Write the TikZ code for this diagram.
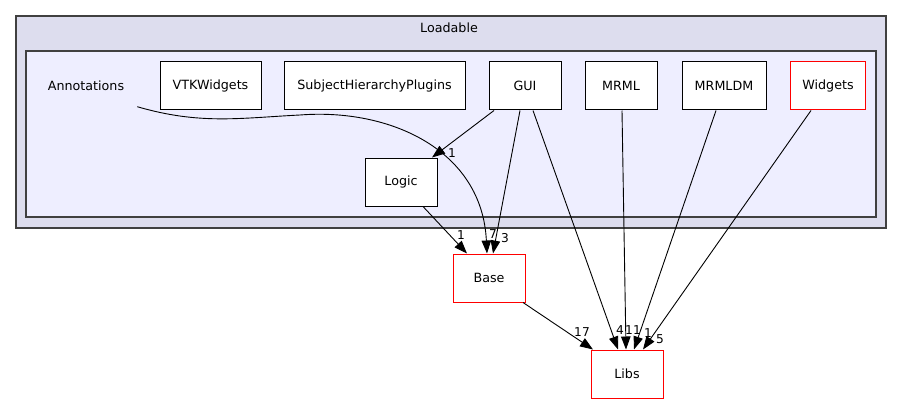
\documentclass[tikz,border=0pt]{standalone}
\usepackage{fontspec}
\setmainfont{DejaVu Sans}
\usetikzlibrary{arrows.meta}
\definecolor{outerfill}{HTML}{DDDDEE}
\definecolor{innerfill}{HTML}{EEEEFF}
\definecolor{clusterline}{HTML}{404040}

\begin{document}
\begin{tikzpicture}[x=1pt,y=-1pt]
\tikzset{
  dirnode/.style={rectangle,draw=black,fill=white,line width=1pt,minimum width=72pt,minimum height=48pt,inner sep=0pt,font=\fontsize{12.7}{15}\selectfont},
  rednode/.style={dirnode,draw=red},
  textnode/.style={inner sep=0pt,font=\fontsize{12.7}{15}\selectfont},
  edgelabel/.style={inner sep=0pt,font=\fontsize{12.2}{14}\selectfont},
  cluster/.style={draw=clusterline,line width=1.2pt},
  directed/.style={-{Triangle[length=13pt,width=9.5pt]},line width=0.9pt}
}
\useasboundingbox (0,0) rectangle (903,404);
% clusters
\draw[cluster,fill=outerfill] (16,16) rectangle (886,228);
\node[textnode] (n_loadable) at (449,28) {Loadable};
\draw[cluster,fill=innerfill] (26,51) rectangle (876,217);
% directories
\node[textnode,minimum width=102pt,minimum height=48pt] (n_annot) at (86,86) {Annotations};
\node[dirnode,minimum width=101pt] (n_vtk) at (210.5,86) {VTKWidgets};
\node[dirnode,minimum width=181pt] (n_shp) at (374.5,86) {SubjectHierarchyPlugins};
\node[dirnode] (n_gui) at (525,86) {GUI};
\node[dirnode] (n_mrml) at (621,86) {MRML};
\node[dirnode,minimum width=84pt] (n_mrmldm) at (724,86) {MRMLDM};
\node[rednode,minimum width=75pt] (n_widgets) at (828,86) {Widgets};
\node[dirnode] (n_logic) at (401,182) {Logic};
\node[rednode] (n_base) at (489,278) {Base};
\node[rednode] (n_libs) at (627,374) {Libs};
% dependencies
\draw[directed] (n_annot.-22) .. controls (200,125) and (240,118) .. (300,115)
  .. controls (390,108) and (482,150) .. ([xshift=-2pt]n_base.north);
\draw[directed] ([xshift=-31pt]n_gui.south) -- ([xshift=31pt]n_logic.north);
\draw[directed] ([xshift=-5pt]n_gui.south) -- ([xshift=4pt]n_base.north);
\draw[directed] ([xshift=8pt]n_gui.south) -- ([xshift=-9pt]n_libs.north);
\draw[directed] ([xshift=22pt]n_logic.south) -- ([xshift=-22pt]n_base.north);
\draw[directed] ([xshift=34pt]n_base.south) -- ([xshift=-34pt]n_libs.north);
\draw[directed] ([xshift=1pt]n_mrml.south) -- ([xshift=-1pt]n_libs.north);
\draw[directed] ([xshift=-8pt]n_mrmldm.south) -- ([xshift=7pt]n_libs.north);
\draw[directed] ([xshift=-17pt]n_widgets.south) -- ([xshift=16pt]n_libs.north);
% counts
\node[edgelabel] (l_gui_logic) at (452,153) {1};
\node[edgelabel] (l_annot_base) at (493,234) {7};
\node[edgelabel] (l_gui_base) at (505,238) {3};
\node[edgelabel] (l_logic_base) at (461,235) {1};
\node[edgelabel] (l_base_libs) at (582,332) {17};
\node[edgelabel] (l_gui_libs) at (620,330) {4};
\node[edgelabel] (l_mrml_libs) at (633,330) {11};
\node[edgelabel] (l_mrmldm_libs) at (648,333) {1};
\node[edgelabel] (l_widgets_libs) at (660,339) {5};
\end{tikzpicture}
\end{document}
